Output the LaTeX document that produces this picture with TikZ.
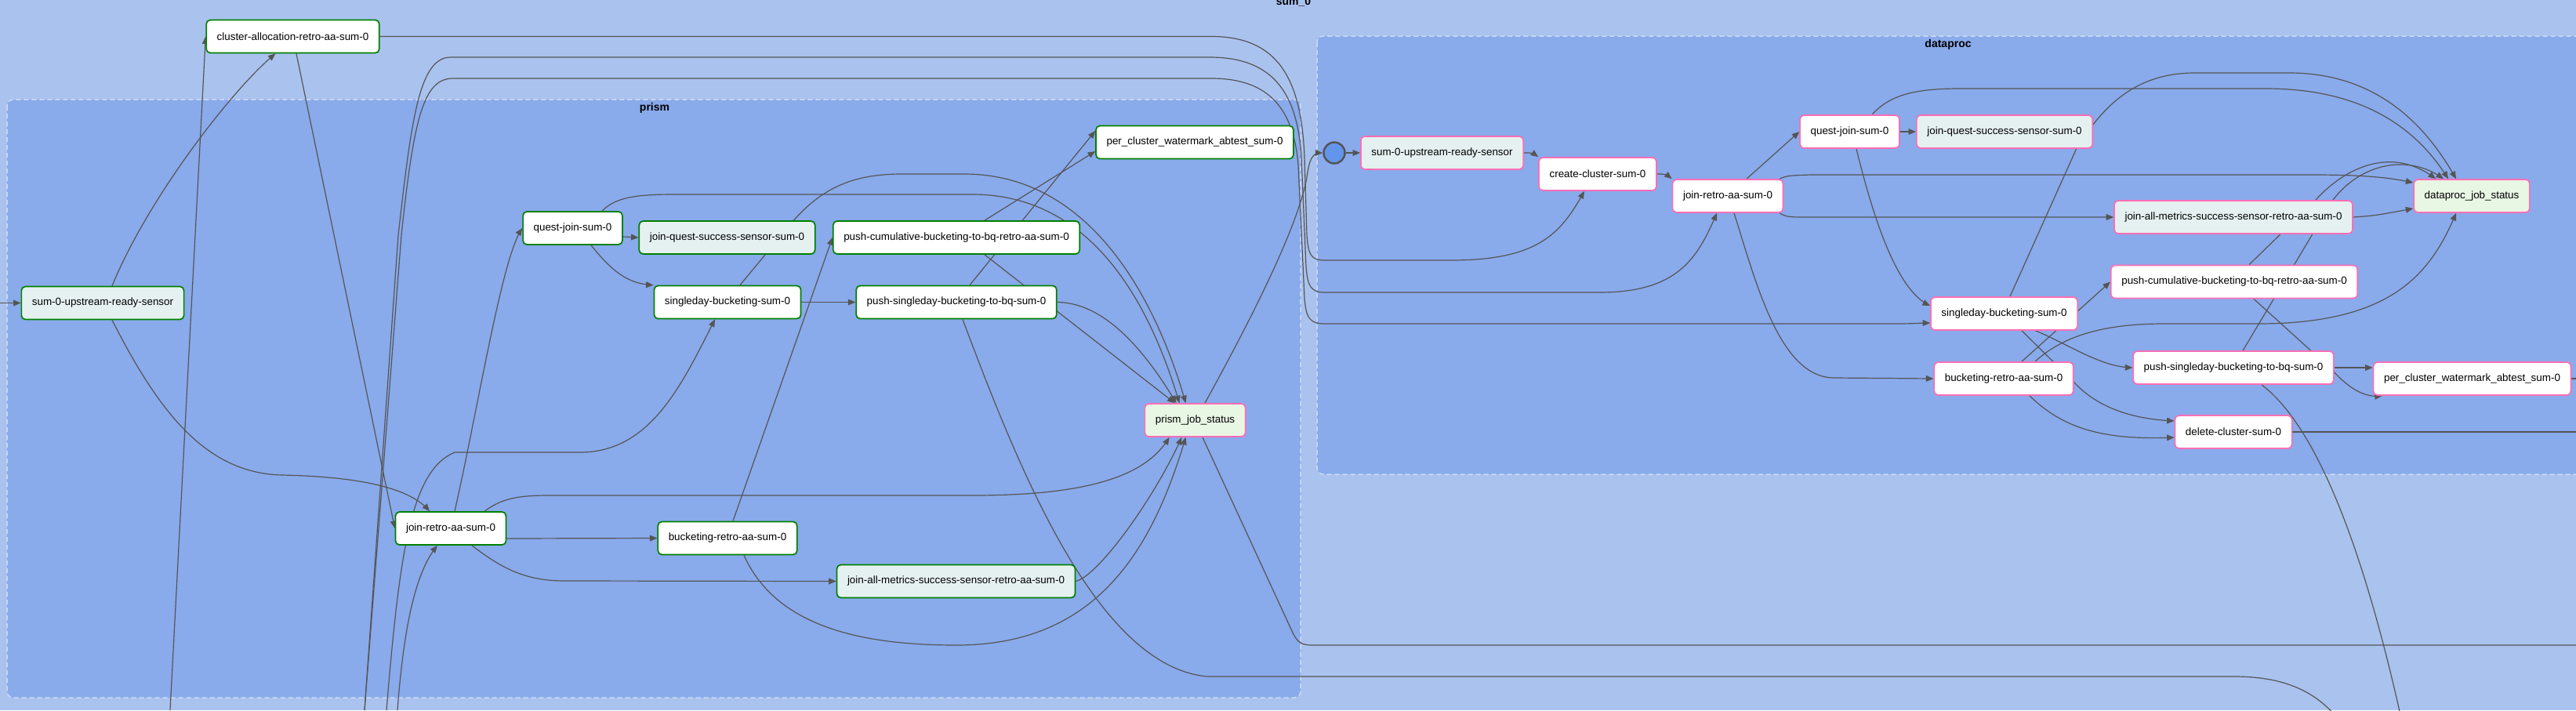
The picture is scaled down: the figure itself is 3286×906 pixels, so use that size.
\documentclass[tikz,border=0pt]{standalone}
\usepackage{fontspec}
\setmainfont{Liberation Sans}
\usepackage{tikz}
\usetikzlibrary{arrows}

\definecolor{outerbg}{RGB}{170,194,238}
\definecolor{clusterbg}{RGB}{137,170,235}
\definecolor{dashcol}{RGB}{205,219,246}
\definecolor{okgreen}{RGB}{0,128,0}
\definecolor{runpink}{RGB}{255,110,180}
\definecolor{sensorfill}{RGB}{229,241,240}
\definecolor{statusfill}{RGB}{232,246,228}
\definecolor{edgegray}{RGB}{85,85,85}
\definecolor{startfill}{RGB}{100,149,237}

\pgfdeclarelayer{bg}
\pgfdeclarelayer{lines}
\pgfsetlayers{bg,lines,main}

\tikzset{
  task/.style={draw, rounded corners=5pt, line width=1.7pt, fill=white, minimum height=42pt, inner xsep=13.5pt, font=\fontsize{13.4}{16}\selectfont},
  prismtask/.style={task, draw=okgreen},
  dptask/.style={task, draw=runpink},
  sensor/.style={fill=sensorfill},
  status/.style={fill=statusfill},
  link/.style={->, draw=edgegray, line width=1.2pt},
  loose/.style={draw=edgegray, line width=1.2pt},
  taskgroup/.style={fill=clusterbg, draw=dashcol, dash pattern=on 6pt off 4pt, line width=1.5pt, rounded corners=8pt},
  grouptitle/.style={font=\fontsize{14}{16}\selectfont\bfseries, anchor=base}
}

\begin{document}
\begin{tikzpicture}[line cap=round,line join=round,>=triangle 45,x=1pt,y=-1pt]
\useasboundingbox (0,0) rectangle (3286,906);
\begin{pgfonlayer}{bg}
\fill[outerbg] (0,0) rectangle (3286,906);
\draw[taskgroup] (9,127) rectangle (1659,890);
\draw[taskgroup] (1680,46) rectangle (3300,605);
\end{pgfonlayer}

\node[grouptitle] (sumTitle) at (1650,6.5) {sum\_0};
\node[grouptitle] (prismTitle) at (835,141) {prism};
\node[grouptitle] (dataprocTitle) at (2485,60) {dataproc};

% prism
\node[prismtask] (clusterAlloc) at (373.5,46.5) {cluster-allocation-retro-aa-sum-0};
\node[prismtask,sensor] (pSensor) at (131,386.5) {sum-0-upstream-ready-sensor};
\node[prismtask] (pQuestJoin) at (730.5,291) {quest-join-sum-0};
\node[prismtask,sensor] (pJoinQuest) at (927.5,303) {join-quest-success-sensor-sum-0};
\node[prismtask] (pPushCumul) at (1220,303) {push-cumulative-bucketing-to-bq-retro-aa-sum-0};
\node[prismtask] (pPerCluster) at (1524,181.5) {per\_cluster\_watermark\_abtest\_sum-0};
\node[prismtask] (pSingleday) at (928,385.5) {singleday-bucketing-sum-0};
\node[prismtask] (pPushSingle) at (1220,385.5) {push-singleday-bucketing-to-bq-sum-0};
\node[dptask,status] (pStatus) at (1524.5,536) {prism\_job\_status};
\node[prismtask] (pJoinRetro) at (575,674) {join-retro-aa-sum-0};
\node[prismtask] (pBucketing) at (928,686.5) {bucketing-retro-aa-sum-0};
\node[prismtask,sensor] (pJoinAll) at (1219.5,741.5) {join-all-metrics-success-sensor-retro-aa-sum-0};

% dataproc
\node[circle, draw=edgegray, fill=startfill, line width=2.5pt, minimum size=27pt, inner sep=0pt] (dStart) at (1702,195) {};
\node[dptask,sensor] (dSensor) at (1839.5,195) {sum-0-upstream-ready-sensor};
\node[dptask] (dCreate) at (2038,222) {create-cluster-sum-0};
\node[dptask] (dJoinRetro) at (2204,250) {join-retro-aa-sum-0};
\node[dptask] (dQuestJoin) at (2359.5,168) {quest-join-sum-0};
\node[dptask,sensor] (dJoinQuest) at (2557,168) {join-quest-success-sensor-sum-0};
\node[dptask,status] (dStatus) at (3153,250) {dataproc\_job\_status};
\node[dptask,sensor] (dJoinAll) at (2849,277) {join-all-metrics-success-sensor-retro-aa-sum-0};
\node[dptask] (dPushCumul) at (2850,359.5) {push-cumulative-bucketing-to-bq-retro-aa-sum-0};
\node[dptask] (dSingleday) at (2556.5,400) {singleday-bucketing-sum-0};
\node[dptask] (dBucketing) at (2556,483) {bucketing-retro-aa-sum-0};
\node[dptask] (dPushSingle) at (2849,469) {push-singleday-bucketing-to-bq-sum-0};
\node[dptask] (dPerCluster) at (3153.5,483) {per\_cluster\_watermark\_abtest\_sum-0};
\node[dptask] (dDelete) at (2849,551) {delete-cluster-sum-0};

\coordinate (pIn) at (0,386.5);
\coordinate (upA) at (217,906);
\coordinate (upB) at (465,906);
\coordinate (upC) at (493,906);
\coordinate (upD) at (507,906);
\coordinate (downA) at (2978,912);
\coordinate (downB) at (3062,912);
\coordinate (outA) at (3295,823);
\coordinate (outB) at (3295,551);
\coordinate (outC) at (3295,483);

\begin{pgfonlayer}{lines}
\draw[link] (pIn) -- (pSensor.west);
\draw[link] ([xshift=12pt]pSensor.north) .. controls (190,250) and (300,110) .. ([xshift=-22pt]clusterAlloc.south);
\draw[link] (upA) -- (clusterAlloc.west);
\draw[link] ([xshift=4.5pt]clusterAlloc.south) -- (pJoinRetro.west);
\draw[link] ([xshift=12pt]pSensor.south) .. controls (200,520) and (260,604) .. (360,606) .. controls (450,608) and (520,620) .. ([xshift=-27pt]pJoinRetro.north);
\draw[link] (upC) .. controls (510,700) and (525,600) .. (580,577) -- (740,577) .. controls (830,577) and (870,490) .. ([xshift=-16pt]pSingleday.south);
\draw[link] (upD) .. controls (515,800) and (530,730) .. ([xshift=-17pt]pJoinRetro.south);
\draw[link] ([xshift=5pt]pJoinRetro.north) .. controls (610,520) and (640,330) .. (pQuestJoin.west);
\draw[link] ([xshift=43pt]pJoinRetro.north) .. controls (640,636) and (660,632) .. (700,632) -- (1240,632) .. controls (1380,632) and (1460,610) .. ([xshift=-33pt]pStatus.south);
\draw[link] ([yshift=-13pt]pJoinRetro.east) -- (pBucketing.west);
\draw[link] ([xshift=27pt]pJoinRetro.south) .. controls (640,725) and (670,741) .. (720,741) -- (pJoinAll.west);
\draw[link] ([yshift=-11pt]pQuestJoin.east) -- (pJoinQuest.west);
\draw[link] ([xshift=23.5pt]pQuestJoin.south) .. controls (780,345) and (800,362) .. (pSingleday.north west);
\draw[link] ([xshift=37.5pt]pQuestJoin.north) .. controls (785,252) and (810,248) .. (860,248) -- (1240,248) .. controls (1400,248) and (1470,400) .. ([xshift=-20pt]pStatus.north);
\draw[link] ([xshift=16pt]pSingleday.north) -- (1000,296) .. controls (1040,245) and (1080,222) .. (1150,222) -- (1230,222) .. controls (1400,222) and (1480,400) .. ([xshift=-12pt]pStatus.north);
\draw[link] (pSingleday.east) -- (pPushSingle.west);
\draw[link] ([xshift=7pt]pBucketing.north) -- (pPushCumul.west);
\draw[link] ([xshift=17pt]pPushSingle.north) -- ([yshift=14.5pt]pPerCluster.west);
\draw[link] ([xshift=36pt]pPushCumul.north) -- ([yshift=-11.5pt]pPerCluster.west);
\draw[link] ([xshift=36pt]pPushCumul.south) -- ([xshift=-26pt]pStatus.north);
\draw[link] (pPushSingle.east) .. controls (1400,386) and (1450,430) .. ([xshift=-24pt]pStatus.north);
\draw[loose] ([xshift=8pt]pPushSingle.south) .. controls (1300,600) and (1400,850) .. (1540,863) -- (2850,863) .. controls (2910,863) and (2950,880) .. (downA);
\draw[link] ([xshift=21pt]pBucketing.south) .. controls (990,800) and (1100,823) .. (1220,823) .. controls (1400,823) and (1470,700) .. ([xshift=-12pt]pStatus.south);
\draw[link] (pJoinAll.east) .. controls (1400,735) and (1470,640) .. ([xshift=-17pt]pStatus.south);
\draw[loose] ([xshift=9.5pt]pStatus.south) -- (1648,805) .. controls (1655,820) and (1660,823) .. (1675,823) -- (outA);
\draw[link] ([xshift=12.5pt]pStatus.north) .. controls (1600,400) and (1660,280) .. (1668,220) .. controls (1671,200) and (1676,195) .. (dStart.west);

\draw[link] (clusterAlloc.east) -- (1545,46.5) .. controls (1630,46.5) and (1660,100) .. (1664,200) -- (1667,300) .. controls (1669,325) and (1672,332) .. (1690,332) -- (1850,332) .. controls (1960,332) and (1990,300) .. ([xshift=-17pt]dCreate.south);
\draw[link] (upB) -- (508,300) .. controls (525,150) and (535,73) .. (575,73) -- (1543,73) .. controls (1625,73) and (1655,120) .. (1660,200) -- (1666,340) .. controls (1668,365) and (1672,373) .. (1690,373) -- (2040,373) .. controls (2140,373) and (2165,330) .. ([xshift=-14pt]dJoinRetro.south);
\draw[link] (upB) -- (512,300) .. controls (528,150) and (540,100) .. (578,100) -- (1545,100) .. controls (1620,100) and (1650,140) .. (1656,210) -- (1664,380) .. controls (1666,405) and (1670,413) .. (1690,413) -- (2420,413) .. controls (2440,413) and (2450,412) .. ([yshift=-12pt]dSingleday.west);

\draw[link] (dStart.east) -- (dSensor.west);
\draw[link] (dSensor.east) .. controls (1955,195) .. (dCreate.north west);
\draw[link] (dCreate.east) .. controls (2125,222) .. (dJoinRetro.north west);
\draw[link] ([xshift=24pt]dJoinRetro.north) -- (dQuestJoin.west);
\draw[link] ([xshift=66pt]dJoinRetro.north) .. controls (2280,224) .. (2310,223) -- (2950,223) .. controls (3020,223) and (3050,227) .. ([yshift=17pt]dStatus.west);
\draw[link] ([xshift=66pt]dJoinRetro.south) .. controls (2280,277) .. (2310,277) -- (dJoinAll.west);
\draw[link] ([xshift=8pt]dJoinRetro.south) .. controls (2240,360) and (2270,482) .. (2340,482) -- (dBucketing.west);
\draw[link] (dQuestJoin.east) -- (dJoinQuest.west);
\draw[link] ([xshift=28.5pt]dQuestJoin.north) .. controls (2410,122) and (2440,113) .. (2500,113) -- (2890,113) .. controls (3010,113) and (3080,160) .. ([xshift=-30pt]dStatus.north);
\draw[link] ([xshift=8.5pt]dQuestJoin.south) .. controls (2390,280) and (2420,370) .. ([yshift=10pt]dSingleday.west);
\draw[link] ([xshift=7.5pt]dSingleday.north) -- (2649,189) .. controls (2680,140) and (2720,93) .. (2800,93) -- (2920,93) .. controls (3040,93) and (3100,170) .. ([xshift=-20pt]dStatus.north);
\draw[link] (dJoinAll.east) .. controls (3030,275) .. ([yshift=-16pt]dStatus.west);
\draw[link] ([xshift=12pt]dPushSingle.north) -- (2976,255) .. controls (3010,210) and (3070,195) .. ([xshift=-36pt]dStatus.north);
\draw[link] ([xshift=19pt]dPushCumul.north) -- (2954,255) .. controls (2990,215) and (3050,185) .. ([xshift=-46pt]dStatus.north);
\draw[link] ([xshift=23pt]dBucketing.north) -- (dPushCumul.west);
\draw[link] ([xshift=40pt]dSingleday.south) .. controls (2640,440) and (2680,468) .. (dPushSingle.west);
\draw[link] ([xshift=22.5pt]dSingleday.south) -- (2645,487) .. controls (2680,525) and (2730,535) .. ([yshift=14pt]dDelete.west);
\draw[link] ([xshift=40pt]dBucketing.north) .. controls (2630,430) and (2680,413) .. (2760,413) -- (2880,413) .. controls (3050,413) and (3100,350) .. ([xshift=-20pt]dStatus.south);
\draw[link] ([xshift=33pt]dBucketing.south) .. controls (2630,545) and (2680,562) .. ([yshift=-7pt]dDelete.west);
\draw[link] ([xshift=25pt]dPushCumul.south) -- (2975,472) .. controls (3000,500) and (3020,507) .. ([xshift=12pt]dPerCluster.south west);
\draw[link] (dPushSingle.east) -- ([yshift=14pt]dPerCluster.west);
\draw[loose] ([xshift=36pt]dPushSingle.south) .. controls (2950,540) and (3010,680) .. (downB);
\draw[loose] (dDelete.east) -- (outB);
\draw[loose] (dPerCluster.east) -- (outC);
\end{pgfonlayer}
\end{tikzpicture}
\end{document}
